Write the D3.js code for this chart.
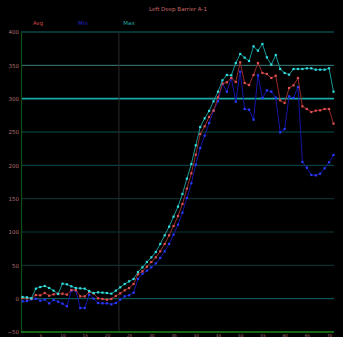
<!DOCTYPE html>
<html>
<head>
<meta charset="utf-8">
<script src="https://cdn.jsdelivr.net/npm/d3@7/dist/d3.min.js"></script>
<style>
  html, body { margin: 0; padding: 0; background: #000; }
  svg { display: block; }
  text { font-family: "DejaVu Sans", sans-serif; }
</style>
</head>
<body>
<svg id="chart" width="343" height="337"></svg>
<script>
// Sample numbers 1..71
const samples = d3.range(1, 72);

const maxValues = [2.5, 2, 0.5, 15, 17.5, 19, 16, 12, 7, 22.5, 21.5, 18.5, 16, 15.5, 15, 11.5, 8.5, 9.5, 9, 8.5,
  7.5, 12, 17, 22, 26, 29.5, 40, 47, 55, 62, 70, 82, 95, 108, 123, 138, 157, 180, 202, 230,
  257.5, 270.5, 281.5, 296, 310.5, 327.5, 335.5, 335, 353.5, 367, 361.5, 356.5, 378.5, 372, 382, 362, 351, 365.5, 344.5, 338.5,
  336, 344.5, 344.5, 344.5, 345.5, 345.5, 343.5, 343.5, 343.5, 345.5, 310.5];

const avgValues = [1, 0.5, 0, 5.5, 5, 8.5, 4.5, 6.5, 7.5, 7.5, 6, 13, 13, 3.5, 3.5, 10, 8, 0.5, -0.5, -1.5,
  -0.5, 4, 8, 12.5, 16, 22, 36.5, 41, 48, 55, 62, 71, 82, 95, 109, 124, 142, 165, 188, 216,
  247, 258.5, 272.5, 282, 302, 322.5, 324.5, 331, 325, 354.5, 323.5, 320.5, 335.5, 353.5, 338.5, 337, 331, 334.5, 297.5, 293.5,
  316, 320, 331, 288.5, 284.5, 280, 282, 282.5, 284.5, 284.5, 262.5];

const minValues = [-4, -3.5, -1, 0, -3, -1.5, -7, -2, -4.5, -7.5, -11.5, 12, 12, -14, -14, 6, 0, -6.5, -7, -7,
  -8.5, -6.5, -1.5, 3.5, 5, 9, 29.5, 37.5, 42, 47, 53, 61, 71, 82, 96, 111, 129, 151, 173, 201,
  226, 244.5, 263.5, 282, 296, 322.5, 310.5, 331, 295.5, 340.5, 284.5, 283.5, 268.5, 335, 301, 312.5, 310.5, 301.5, 249.5, 254.5,
  303.5, 301, 317.5, 205, 196.5, 185.5, 185, 187.5, 195.5, 204.5, 215.5];

const yTicks = [400, 350, 300, 250, 200, 150, 100, 50, 0, -50];
const xTicks = [5, 10, 15, 20, 25, 30, 35, 40, 45, 50, 55, 60, 65, 70];
const markerSample = 22.7;

const seriesNames = ["Avg", "Min", "Max"];
const chartTitle = "Left Deep Barrier A-1";

const svg = d3.select("#chart");
const W = 343, H = 337;
const plotLeft = 21, plotRight = 334, plotTop = 32, plotBottom = 332;

svg.append("rect").attr("width", W).attr("height", H).attr("fill", "#000");

const x = d3.scaleLinear().domain([1, 71]).range([22.5, 333.5]);
const y = d3.scaleLinear().domain([-50, 400]).range([plotBottom, plotTop]);

// horizontal grid, colour per level
function gridColor(v) {
  if (v === 300) return "#1aa8a8";
  if (v === 400) return "#0f6a6a";
  if (v === 350) return "#3c7c7c";
  if (v === 0) return "#0f6868";
  if (v === 250 || v === 200) return "#0c5050";
  return "#0a3a3a";
}
const gridVals = yTicks.filter(v => v !== -50);
svg.append("g").selectAll("line").data(gridVals).join("line")
  .attr("x1", plotLeft).attr("x2", plotRight)
  .attr("y1", d => y(d)).attr("y2", d => y(d))
  .attr("stroke", gridColor)
  .attr("stroke-width", d => d === 300 ? 1.6 : 1);

// vertical marker
svg.append("line")
  .attr("x1", x(markerSample)).attr("x2", x(markerSample))
  .attr("y1", plotTop).attr("y2", plotBottom)
  .attr("stroke", "#2a2a2a").attr("stroke-width", 1);

// axes
const yAxis = d3.axisLeft(y).tickValues(yTicks).tickSize(0).tickPadding(2);
const gy = svg.append("g").attr("transform", `translate(${plotLeft},0)`).call(yAxis);
gy.select(".domain").attr("stroke", "#0f4f14").attr("stroke-width", 1.2);
gy.selectAll("text").attr("fill", "#b07070").attr("font-size", 5.5);

const xAxis = d3.axisBottom(x).tickValues(xTicks).tickSize(0).tickPadding(0);
const gx = svg.append("g").attr("transform", `translate(0,${plotBottom})`).call(xAxis);
gx.select(".domain").attr("d", `M${plotLeft},0H${plotRight}`).attr("stroke", "#1c8a1c").attr("stroke-width", 1.5);
gx.selectAll("text").attr("fill", "#b07070").attr("font-size", 4.2)
  .attr("dy", null).attr("y", 4.6);

// series
const series = [
  { name: "Max", values: maxValues, line: "#1a9898", dot: "#33dede" },
  { name: "Avg", values: avgValues, line: "#9a2a2a", dot: "#e05050" },
  { name: "Min", values: minValues, line: "#1515a8", dot: "#2a3cff" }
];
const lineGen = d3.line().x((d, i) => x(samples[i])).y(d => y(d));

const order = ["Min", "Avg", "Max"];
order.forEach(nm => {
  const s = series.find(q => q.name === nm);
  const g = svg.append("g");
  g.append("path").attr("d", lineGen(s.values))
    .attr("fill", "none").attr("stroke", s.line).attr("stroke-width", 1);
  g.selectAll("rect").data(s.values).join("rect")
    .attr("x", (d, i) => x(samples[i]) - 1.1)
    .attr("y", d => y(d) - 1.1)
    .attr("width", 2.2).attr("height", 2.2)
    .attr("fill", s.dot);
});

// title & legend
svg.append("text").attr("x", 178).attr("y", 11).attr("text-anchor", "middle")
  .attr("fill", "#c86a6a").attr("font-size", 5.5).text(chartTitle);

const legendColors = { Avg: "#c84848", Min: "#2626c8", Max: "#22a8a8" };
const legendX = { Avg: 38, Min: 83, Max: 129 };
svg.append("g").selectAll("text").data(seriesNames).join("text")
  .attr("x", d => legendX[d]).attr("y", 25).attr("text-anchor", "middle")
  .attr("fill", d => legendColors[d]).attr("font-size", 5.5).text(d => d);
</script>
</body>
</html>
